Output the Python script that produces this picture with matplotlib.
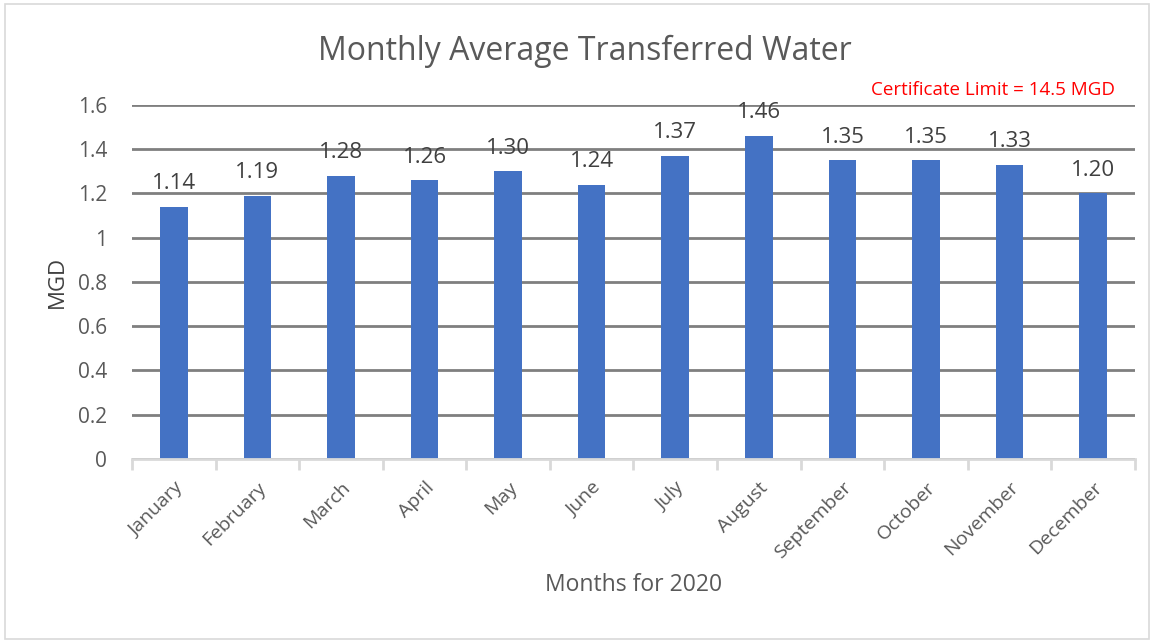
import matplotlib
matplotlib.use("Agg")
import matplotlib.pyplot as plt
from matplotlib.patches import Rectangle

months = ["January", "February", "March", "April", "May", "June", "July",
          "August", "September", "October", "November", "December"]
values = [1.14, 1.19, 1.28, 1.26, 1.30, 1.24, 1.37, 1.46, 1.35, 1.35, 1.33, 1.20]
yticks = [0, 0.2, 0.4, 0.6, 0.8, 1, 1.2, 1.4, 1.6]
ytick_labels = ["0", "0.2", "0.4", "0.6", "0.8", "1", "1.2", "1.4", "1.6"]

plt.rcParams['font.family'] = ['Open Sans', 'DejaVu Sans']

fig = plt.figure(figsize=(11.56, 6.43), dpi=100)
fig.patches.append(Rectangle((0.004, 0.006), 0.99, 0.988, transform=fig.transFigure,
                             fill=False, edgecolor="#d9d9d9", linewidth=1.2))
ax = fig.add_axes([0.1142, 0.2862, 0.8676, 0.5505])

x = range(len(months))
bars = ax.bar(x, values, width=0.33, color="#4472c4", zorder=3)
ax.set_xlim(-0.5, len(months) - 0.5)
ax.set_ylim(0, 1.6)
ax.set_yticks(yticks)
ax.set_yticklabels(ytick_labels)
ax.yaxis.grid(True, color="#7f7f7f", linewidth=2, zorder=0)
ax.set_axisbelow(True)

for s in ["top", "right", "left"]:
    ax.spines[s].set_visible(False)
ax.spines["bottom"].set_color("#d9d9d9")
ax.spines["bottom"].set_linewidth(2)
ax.spines["bottom"].set_zorder(4)

ax.set_xticks([i - 0.5 for i in range(len(months) + 1)], minor=False)
ax.set_xticklabels([])
ax.tick_params(axis="x", which="major", length=8, width=2, color="#d9d9d9")
ax.set_xticks(list(x), minor=True)
ax.set_xticklabels(months, minor=True, rotation=45, ha="right", rotation_mode="anchor",
                   fontsize=14, color="#595959")
ax.tick_params(axis="x", which="minor", length=0, pad=14)
ax.tick_params(axis="y", length=0, labelsize=15, labelcolor="#595959", pad=18)

for i, v in enumerate(values):
    ax.annotate(f"{v:.2f}", (i, v), xytext=(0, 9), textcoords="offset points",
                ha="center", va="bottom", fontsize=16, color="#404040")

ax.set_ylabel("MGD", fontsize=16, color="#404040", labelpad=7)
ax.set_xlabel("Months for 2020", fontsize=16.5, color="#595959", labelpad=8)
fig.text(0.506, 0.92, "Monthly Average Transferred Water", ha="center", va="center",
         fontsize=23, color="#595959")
fig.text(0.9645, 0.86, "Certificate Limit = 14.5 MGD", ha="right", va="center",
         fontsize=13.5, color="#ff0000")

fig.savefig("out.png", dpi=100)
